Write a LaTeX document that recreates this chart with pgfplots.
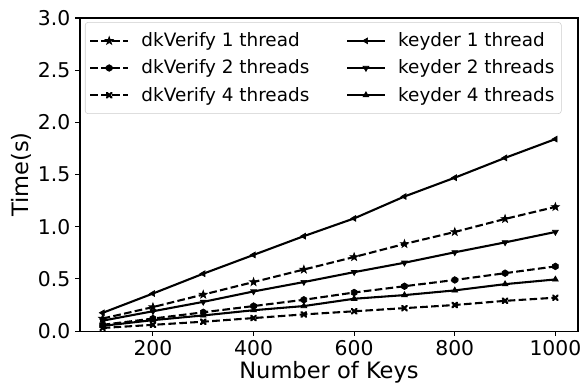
\documentclass[border=0pt]{standalone}
\usepackage{fontspec}
\setmainfont{DejaVu Sans}
\usepackage{pgfplots}
\pgfplotsset{compat=1.18}
\pgfdeclareplotmark{fstar}{%
  \pgfpathmoveto{\pgfpointpolar{90}{1.25\pgfplotmarksize}}%
  \pgfpathlineto{\pgfpointpolar{126}{0.5\pgfplotmarksize}}%
  \pgfpathlineto{\pgfpointpolar{162}{1.25\pgfplotmarksize}}%
  \pgfpathlineto{\pgfpointpolar{198}{0.5\pgfplotmarksize}}%
  \pgfpathlineto{\pgfpointpolar{234}{1.25\pgfplotmarksize}}%
  \pgfpathlineto{\pgfpointpolar{270}{0.5\pgfplotmarksize}}%
  \pgfpathlineto{\pgfpointpolar{306}{1.25\pgfplotmarksize}}%
  \pgfpathlineto{\pgfpointpolar{342}{0.5\pgfplotmarksize}}%
  \pgfpathlineto{\pgfpointpolar{18}{1.25\pgfplotmarksize}}%
  \pgfpathlineto{\pgfpointpolar{54}{0.5\pgfplotmarksize}}%
  \pgfpathclose\pgfusepathqfillstroke}
\pgfdeclareplotmark{fhex}{%
  \pgfpathmoveto{\pgfpointpolar{90}{\pgfplotmarksize}}%
  \pgfpathlineto{\pgfpointpolar{150}{\pgfplotmarksize}}%
  \pgfpathlineto{\pgfpointpolar{210}{\pgfplotmarksize}}%
  \pgfpathlineto{\pgfpointpolar{270}{\pgfplotmarksize}}%
  \pgfpathlineto{\pgfpointpolar{330}{\pgfplotmarksize}}%
  \pgfpathlineto{\pgfpointpolar{30}{\pgfplotmarksize}}%
  \pgfpathclose\pgfusepathqfillstroke}
\pgfdeclareplotmark{fX}{%
  \pgfsetlinewidth{1.6pt}\pgfsetroundcap
  \pgfpathmoveto{\pgfpoint{-0.7\pgfplotmarksize}{-0.7\pgfplotmarksize}}%
  \pgfpathlineto{\pgfpoint{0.7\pgfplotmarksize}{0.7\pgfplotmarksize}}%
  \pgfpathmoveto{\pgfpoint{-0.7\pgfplotmarksize}{0.7\pgfplotmarksize}}%
  \pgfpathlineto{\pgfpoint{0.7\pgfplotmarksize}{-0.7\pgfplotmarksize}}%
  \pgfusepathqstroke}
\begin{document}
\begin{tikzpicture}
\useasboundingbox (-57.6bp,-38.9bp) rectangle (362.9bp,238.4bp);
\begin{axis}[
  scale only axis,
  width=358.6bp, height=225.4bp,
  xmin=55, xmax=1045, ymin=0, ymax=3.0,
  xtick={200,400,600,800,1000},
  ytick={0,0.5,1.0,1.5,2.0,2.5,3.0},
  /pgf/number format/assume math mode=true,
  /pgf/number format/1000 sep={},
  yticklabel style={/pgf/number format/fixed,/pgf/number format/fixed zerofill,/pgf/number format/precision=1},
  tick label style={font=\fontsize{14.7}{18}\selectfont},
  label style={font=\fontsize{16.3}{19}\selectfont},
  xlabel={Number of Keys}, ylabel={Time(s)},
  xlabel style={yshift=3bp},
  ylabel style={yshift=-2bp},
  tick align=outside, tick pos=left,
  major tick length=3.5bp,
  every tick/.style={black, line width=0.8bp},
  axis line style={line width=0.8bp},
  legend columns=2,
  legend cell align=left,
  legend style={at={(0.01,0.987)}, anchor=north west, draw=black!20, rounded corners=2bp,
    font=\fontsize{13.3}{16}\selectfont, row sep=4bp,
    nodes={inner sep=2bp},
    /tikz/column 1/.append style={column sep=7bp},
    /tikz/column 2/.append style={column sep=24.5bp},
    /tikz/column 3/.append style={column sep=7bp},
    inner xsep=3bp, inner ysep=5.5bp},
  legend image code/.code={\draw[mark repeat=2,mark phase=2] plot coordinates {(0bp,0bp) (13.5bp,0bp) (27bp,0bp)};},
  every axis plot/.append style={black, line width=1.5bp, mark size=2.4bp},
]
% dkVerify 1 thread
\addplot[dashed, dash pattern=on 5.5bp off 2.4bp, mark=fstar, mark options={solid, line width=0.5bp}] coordinates {
(100,0.12) (200,0.23) (300,0.35) (400,0.47) (500,0.59) (600,0.71) (700,0.835) (800,0.95) (900,1.075) (1000,1.19)};
\addlegendentry{dkVerify 1 thread}
% keyder 1 thread
\addplot[solid, mark=triangle*, mark options={solid, rotate=90, line width=0.5bp}] coordinates {
(100,0.175) (200,0.36) (300,0.55) (400,0.73) (500,0.91) (600,1.08) (700,1.29) (800,1.47) (900,1.66) (1000,1.84)};
\addlegendentry{keyder 1 thread}
% dkVerify 2 threads
\addplot[dashed, dash pattern=on 5.5bp off 2.4bp, mark=fhex, mark options={solid, line width=0.5bp}] coordinates {
(100,0.06) (200,0.12) (300,0.18) (400,0.24) (500,0.30) (600,0.37) (700,0.43) (800,0.49) (900,0.555) (1000,0.62)};
\addlegendentry{dkVerify 2 threads}
% keyder 2 threads
\addplot[solid, mark=triangle*, mark options={solid, rotate=180, line width=0.5bp}] coordinates {
(100,0.10) (200,0.19) (300,0.28) (400,0.38) (500,0.47) (600,0.565) (700,0.655) (800,0.755) (900,0.85) (1000,0.95)};
\addlegendentry{keyder 2 threads}
% dkVerify 4 threads
\addplot[dashed, dash pattern=on 5.5bp off 2.4bp, mark=fX, mark options={solid}] coordinates {
(100,0.03) (200,0.06) (300,0.09) (400,0.125) (500,0.16) (600,0.19) (700,0.22) (800,0.25) (900,0.29) (1000,0.32)};
\addlegendentry{dkVerify 4 threads}
% keyder 4 threads
\addplot[solid, mark=triangle*, mark options={solid, line width=0.5bp}] coordinates {
(100,0.05) (200,0.105) (300,0.15) (400,0.20) (500,0.24) (600,0.31) (700,0.345) (800,0.39) (900,0.45) (1000,0.495)};
\addlegendentry{keyder 4 threads}
\end{axis}
\end{tikzpicture}
\end{document}
